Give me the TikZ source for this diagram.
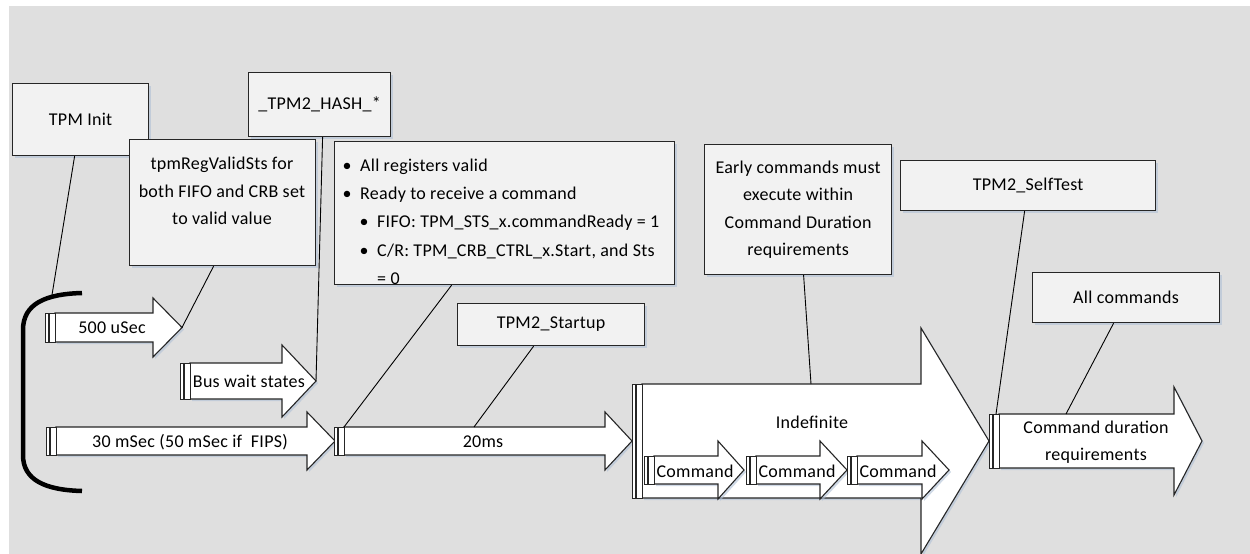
\documentclass[tikz,border=0pt]{standalone}
\usepackage{fontspec}
\setmainfont{Carlito}[LetterSpace=1.5]
\usetikzlibrary{shadows,calc}

\definecolor{bgc}{HTML}{DFDFDF}
\definecolor{boxc}{HTML}{F2F2F2}
\definecolor{edgec}{HTML}{262626}
\definecolor{shadc}{HTML}{AFC0D6}

\tikzset{
  lbl/.style={font=\fontsize{18}{27.5}\selectfont, inner sep=0pt, text=black},
  softshadow/.style={drop shadow={shadow xshift=2pt, shadow yshift=-2pt, fill=shadc, opacity=0.6}},
  note/.style={draw=edgec, line width=1.2pt, fill=boxc, softshadow, lbl, anchor=north west},
  conn/.style={draw=black, line width=0.9pt},
  body/.style={draw=edgec, line width=1.1pt, fill=white, line join=miter, softshadow},
  bar/.style={draw=edgec, line width=0.9pt, fill=white},
  brace/.style={line width=4.5pt, line cap=butt}
}

% Timeline arrow: #1 name, #2 left edge, #3 head start, #4 tip x,
% #5 axis y, #6 shaft half-height, #7 head half-height
\newcommand\timearrow[7]{%
  \draw[body] (#2+10,#5-#6) -- (#3,#5-#6) -- (#3,#5-#7) -- (#4,#5)
      -- (#3,#5+#7) -- (#3,#5+#6) -- (#2+10,#5+#6) -- cycle;
  \draw[bar] (#2,#5-#6) rectangle (#2+3,#5+#6);
  \draw[bar] (#2+4,#5-#6) rectangle (#2+10,#5+#6);
  \coordinate (#1-tip) at (#4,#5);
  \coordinate (#1-nw) at (#2+10,#5-#6);
}

\begin{document}
\begin{tikzpicture}[x=1pt, y=-1pt]
  \useasboundingbox (0,0) rectangle (1250,554);
  \fill[white] (0,0) rectangle (1250,554);
  \fill[bgc] (9,6) rectangle (1250,554);

  % bracket grouping the power-on intervals
  \draw[brace] (82,293) .. controls (45,294) and (23,304) .. (23,330)
      -- (23,455) .. controls (23,480) and (45,490) .. (82,491);
  \coordinate (brk-top) at (52,295);

  % timeline arrows
  \timearrow{a500}{45}{153}{182}{327.5}{14.5}{29.5}
  \timearrow{bus}{180}{282}{316}{381}{18}{36}
  \timearrow{m30}{46}{307}{335}{441}{14}{29}
  \timearrow{ms20}{334}{605}{632}{441}{14}{29}
  \timearrow{indef}{632}{921}{989}{441}{57}{113}
  \timearrow{cmd1}{644}{718}{744}{470}{14}{29}
  \timearrow{cmd2}{746}{820}{847}{470}{14}{29}
  \timearrow{cmd3}{847}{922}{949}{470}{14}{29}
  \timearrow{fin}{989}{1174}{1202}{441}{27}{54}

  \coordinate (ms20-mark) at (474,427);
  \coordinate (indef-mark) at (811,384);
  \coordinate (fin-mark) at (1066,414);

  % arrow labels
  \node[lbl] at (112,328) {500 uSec};
  \node[lbl] at (249,381) {Bus wait states};
  \node[lbl] at (190,442) {30 mSec (50 mSec if\ \ FIPS)};
  \node[lbl] at (483,442) {20ms};
  \node[lbl] at (812,422) {Indefinite};
  \node[lbl] at (695,471) {Command};
  \node[lbl] at (797,471) {Command};
  \node[lbl] at (898,471) {Command};
  \node[lbl, align=center] at (1096,442) {Command duration\\requirements};

  % callout boxes
  \node[note, minimum width=136pt, minimum height=72pt] (init) at (12,83) {TPM Init};
  \node[note, minimum width=142pt, minimum height=64pt] (hash) at (248,72) {\_TPM2\_HASH\_*};
  \node[note, minimum width=186pt, minimum height=126pt] (reg) at (129,139) {};
  \node[lbl, align=center] at (222,191) {tpmRegValidSts for\\both FIFO and CRB set\\to valid value};
  \node[note, minimum width=340pt, minimum height=143pt] (ready) at (334,141) {};
  \node[lbl, anchor=base] at (347,171) {•};
  \node[lbl, anchor=base west] at (360,171) {All registers valid};
  \node[lbl, anchor=base] at (347,199) {•};
  \node[lbl, anchor=base west] at (360,199) {Ready to receive a command};
  \node[lbl, anchor=base] at (364,227) {•};
  \node[lbl, anchor=base west] at (377,227) {FIFO: TPM\_STS\_x.commandReady = 1};
  \node[lbl, anchor=base] at (364,256) {•};
  \node[lbl, anchor=base west] at (377,256) {C/R: TPM\_CRB\_CTRL\_x.Start, and Sts};
  \node[lbl, anchor=base west] at (377,284) {= 0};
  \node[note, minimum width=187pt, minimum height=42pt] (startup) at (457,303) {TPM2\_Startup};
  \node[note, minimum width=187pt, minimum height=130pt, align=center] (early) at (704,144)
      {Early commands must\\execute within\\Command Duration\\requirements};
  \node[note, minimum width=255pt, minimum height=50pt] (selftest) at (900,160) {TPM2\_SelfTest};
  \node[note, minimum width=187pt, minimum height=50pt] (allcmd) at (1032,272) {All commands};

  % leader lines
  \draw[conn] ([xshift=-6pt]init.south) -- (brk-top);
  \draw[conn] ([xshift=-9pt]reg.south) -- (a500-tip);
  \draw[conn] ([xshift=3pt]hash.south) -- (bus-tip);
  \draw[conn] ([xshift=-53pt]ready.south) -- (ms20-nw);
  \draw[conn] ([xshift=-17.5pt]startup.south) -- (ms20-mark);
  \draw[conn] ([xshift=5.5pt]early.south) -- (indef-mark);
  \draw[conn] ([xshift=-3.5pt]selftest.south) -- ([xshift=-3pt]fin-nw);
  \draw[conn] ([xshift=-12.5pt]allcmd.south) -- (fin-mark);
\end{tikzpicture}
\end{document}
